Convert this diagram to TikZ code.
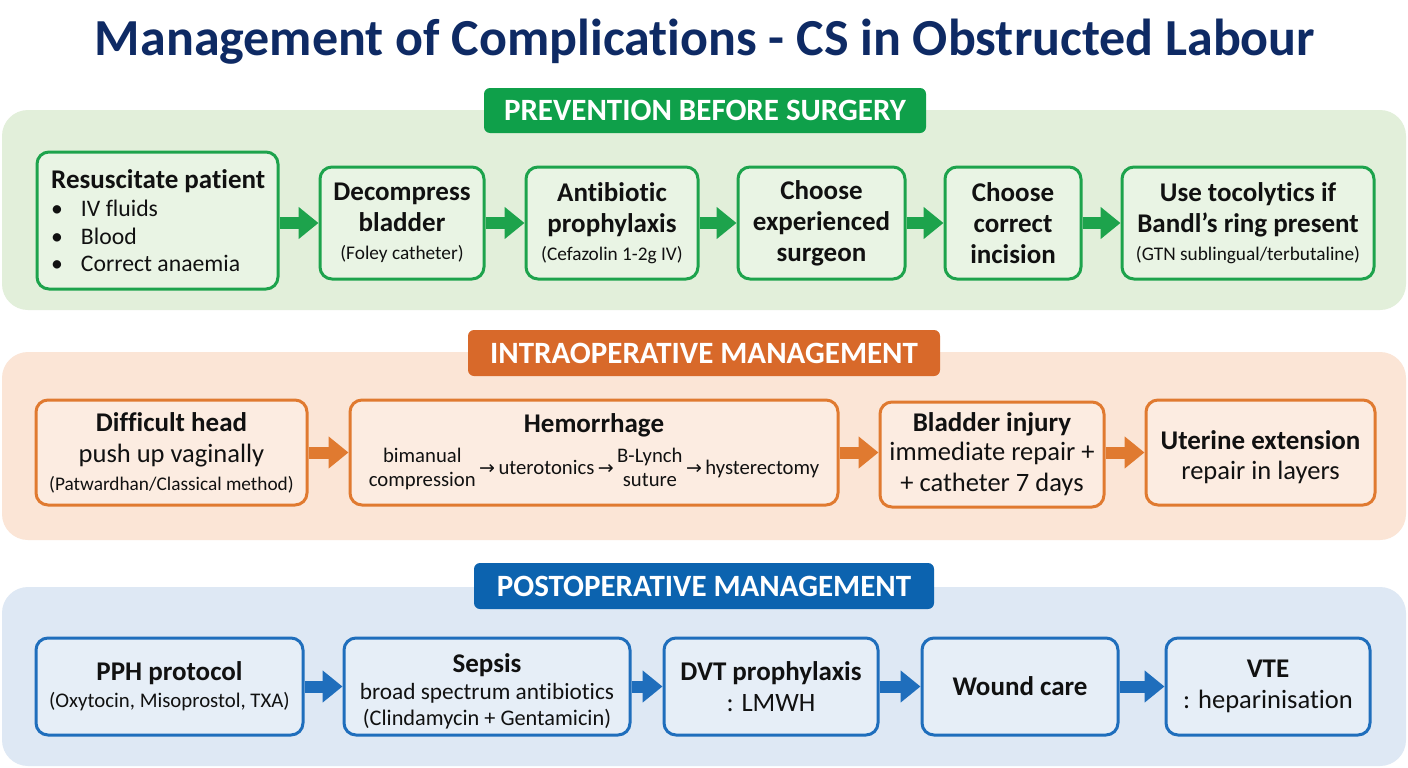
\documentclass[tikz,border=0pt]{standalone}
\usepackage{fontspec}
\setmainfont{Carlito}[Ligatures=NoCommon]
\newfontfamily\arrfont{DejaVu Sans}
\usetikzlibrary{arrows.meta}
\definecolor{navy}{HTML}{0E2A64}
\definecolor{gS}{HTML}{1DA34C}
\definecolor{gH}{HTML}{0FA04A}
\definecolor{gP}{HTML}{E2EFDA}
\definecolor{gB}{HTML}{E9F4E4}
\definecolor{oS}{HTML}{E07A30}
\definecolor{oH}{HTML}{D8692A}
\definecolor{oP}{HTML}{FBE5D6}
\definecolor{oB}{HTML}{FCECE1}
\definecolor{bS}{HTML}{1F6EBC}
\definecolor{bH}{HTML}{0C63AF}
\definecolor{bP}{HTML}{DEE8F4}
\definecolor{bB}{HTML}{E6EEF7}
\definecolor{txt}{HTML}{111111}
\newcommand{\ar}{{\arrfont\fontsize{19}{22}\selectfont →}}
\tikzset{
  panel/.style={rounded corners=26pt, draw=none},
  hdr/.style={rounded corners=6pt, text=white, font=\bfseries\fontsize{31}{34}\selectfont, inner sep=0pt},
  box/.style={rounded corners=12pt, line width=3pt, align=center, text=txt, inner sep=0pt, font=\fontsize{27}{31}\selectfont},
  blk/.style={line width=12pt, -{Triangle[length=20pt,width=31pt]}},
}
\newcommand{\bt}[1]{{\bfseries\fontsize{27}{31}\selectfont #1}}
\newcommand{\sm}[1]{{\fontsize{19.3}{22}\selectfont #1}}
\newcommand{\md}[1]{{\fontsize{26.5}{30}\selectfont #1}}
\begin{document}
\begin{tikzpicture}[x=1pt,y=-1pt]
\useasboundingbox (0,0) rectangle (1408,768);
\fill[white] (0,0) rectangle (1408,768);
% title
\node[text=navy, font=\bfseries\fontsize{52}{56}\selectfont] (title) at (705,42) {Management of Complications - CS in Obstructed Labour};
% panels
\fill[panel, gP] (2,110) rectangle (1406,310);
\fill[panel, oP] (2,352) rectangle (1406,540);
\fill[panel, bP] (2,587) rectangle (1406,766);
% headers
\node[hdr, fill=gH, minimum width=442pt, minimum height=45pt] (h1) at (705,110.5) {PREVENTION BEFORE SURGERY};
\node[hdr, fill=oH, minimum width=472pt, minimum height=46pt] (h2) at (704,353) {INTRAOPERATIVE MANAGEMENT};
\node[hdr, fill=bH, minimum width=460pt, minimum height=46pt] (h3) at (704,586) {POSTOPERATIVE MANAGEMENT};
% row 1
\tikzset{g/.style={box, draw=gS, fill=gB}}
\node[g, minimum width=241pt, minimum height=137pt] (r1) at (157.5,220.5) {};
\node[anchor=north west, text=txt, align=left, inner sep=0pt, font=\fontsize{23.7}{27.5}\selectfont] (r1t) at (51,169) {\bt{Resuscitate patient}\\[4pt]
 \begin{tabular}{@{\hspace{0pt}}l@{\hspace{18pt}}l@{}}\textbullet & IV fluids\\ \textbullet & Blood\\ \textbullet & Correct anaemia\end{tabular}};
\node[g, minimum width=164pt, minimum height=112pt] (d1) at (402,223) {\bt{Decompress}\\\bt{bladder}\\[-3pt]\sm{(Foley catheter)}};
\node[g, minimum width=172pt, minimum height=112pt] (a1) at (612,223) {\bt{Antibiotic}\\\bt{prophylaxis}\\[-3pt]\sm{(Cefazolin 1-2g IV)}};
\node[g, minimum width=167pt, minimum height=112pt] (c1) at (821.5,223) {\bt{Choose}\\\bt{experienced}\\\bt{surgeon}};
\node[g, minimum width=136pt, minimum height=112pt] (i1) at (1013,223) {\bt{Choose}\\\bt{correct}\\\bt{incision}};
\node[g, minimum width=252pt, minimum height=112pt] (t1) at (1248,223) {\bt{Use tocolytics if}\\\bt{Bandl’s ring present}\\[-3pt]\sm{(GTN sublingual/terbutaline)}};
\foreach \a/\b in {r1/d1,d1/a1,a1/c1,c1/i1,i1/t1}
  \draw[blk, gS] (\a.east |- d1.center) -- (\b.west |- d1.center);
% row 2
\tikzset{o/.style={box, draw=oS, fill=oB}}
\node[o, minimum width=271pt, minimum height=105pt] (p2) at (171.5,452.5) {\bt{Difficult head}\\\md{push up vaginally}\\[-3pt]\sm{(Patwardhan/Classical method)}};
\node[o, minimum width=488pt, minimum height=105pt] (q2) at (594,452.5) {\bt{Hemorrhage}\\[8pt]
 {\fontsize{20.7}{24}\selectfont\begin{tabular}{@{}c@{}}bimanual\\compression\end{tabular}\,\ar\,uterotonics\,\ar\,\begin{tabular}{@{}c@{}}B-Lynch\\suture\end{tabular}\,\ar\,hysterectomy}\\[-14pt]};
\node[o, minimum width=224pt, minimum height=105pt] (s2) at (992,454.5) {\bt{Bladder injury}\\[-2pt]\md{immediate repair +}\\\md{+ catheter 7 days}};
\node[o, minimum width=229pt, minimum height=105pt] (u2) at (1260.5,452.5) {\bt{Uterine extension}\\[-1pt]\md{repair in layers}\\[-37pt]};
\foreach \a/\b in {p2/q2,q2/s2,s2/u2}
  \draw[blk, oS] (\a.east |- p2.center) -- (\b.west |- p2.center);
% row 3
\tikzset{b/.style={box, draw=bS, fill=bB}}
\node[b, minimum width=267pt, minimum height=97pt] (p3) at (169.5,686.5) {\bt{PPH protocol}\\[-4pt]{\fontsize{20.8}{24}\selectfont (Oxytocin, Misoprostol, TXA)}};
\node[b, minimum width=286pt, minimum height=97pt] (s3) at (487,686.5) {\bt{Sepsis}\\[-4pt]{\fontsize{23.3}{26}\selectfont broad spectrum antibiotics}\\[-5pt]{\fontsize{22.3}{26}\selectfont (Clindamycin + Gentamicin)}\\[-38pt]};
\node[b, minimum width=214pt, minimum height=97pt] (d3) at (771,686.5) {\bt{DVT prophylaxis}\\\md{: LMWH}};
\node[b, minimum width=196pt, minimum height=97pt] (w3) at (1020,686.5) {\bt{Wound care}};
\node[b, minimum width=204pt, minimum height=97pt] (v3) at (1268,686.5) {\bt{VTE}\\\md{: heparinisation}};
\foreach \a/\b in {p3/s3,s3/d3,d3/w3,w3/v3}
  \draw[blk, bS] (\a.east) -- (\b.west);
\end{tikzpicture}
\end{document}
